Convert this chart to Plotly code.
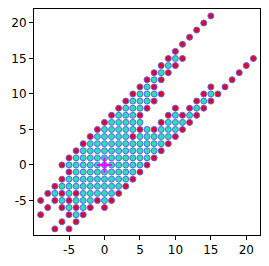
import plotly.graph_objects as go

# Red (boundary) lattice points, listed row by row (y value, x values)
red_rows_y = [21, 20, 19, 18, 17, 16, 15, 14, 13, 12, 11, 10, 9, 8, 7, 6, 5, 4, 3, 2, 1, 0,
              -1, -2, -3, -4, -5, -6, -7, -8, -9]
red_rows_x = [[15], [14], [13], [12], [11], [10], [9, 11, 21], [8, 10, 20], [7, 9, 19],
              [6, 8, 18], [5, 7, 15, 17], [4, 8, 14, 16], [3, 7, 13, 15], [2, 6, 10, 12, 14],
              [1, 5, 9, 11, 13], [0, 8, 12], [-1, 5, 7, 11], [-2, 4, 10], [-3, 9], [-4, 8],
              [-5, 7], [-6, 6], [-5, 5], [-6, 4], [-7, 3], [-8, -6, -4, 2],
              [-9, -7, -5, -1, 1], [-8, -6, -4, -2, 0], [-9, -5, -3], [-6, -4], [-7, -5]]

# Cyan (interior) lattice points, row by row
cyan_rows_y = [15, 14, 13, 12, 11, 10, 9, 8, 7, 6, 5, 4, 3, 2, 1, 0, -1, -2, -3, -4, -5, -6, -7]
cyan_rows_x = [[10], [9], [8], [7], [6], [5, 6, 7, 15], [4, 5, 6, 14], [3, 4, 5, 13],
               [2, 3, 4, 10, 12], [1, 2, 3, 4, 5, 9, 10, 11], [0, 1, 2, 3, 4, 6, 8, 9, 10],
               [-1, 0, 1, 2, 3, 5, 6, 7, 8, 9], list(range(-2, 9)), list(range(-3, 8)),
               list(range(-4, 7)), list(range(-5, 6)), list(range(-4, 5)), list(range(-5, 4)),
               list(range(-6, 3)), [-7, -5, -3, -2, -1, 0, 1], [-6, -4, -3, -2, 0], [-5, -3], [-4]]

origin_x = [0]
origin_y = [0]

x_ticks = [-5, 0, 5, 10, 15, 20]
y_ticks = [-5, 0, 5, 10, 15, 20]

red_x, red_y = [], []
for yv, xs in zip(red_rows_y, red_rows_x):
    red_x += xs
    red_y += [yv] * len(xs)
cyan_x, cyan_y = [], []
for yv, xs in zip(cyan_rows_y, cyan_rows_x):
    cyan_x += xs
    cyan_y += [yv] * len(xs)

edge = "#6161ee"
fig = go.Figure()
fig.add_trace(go.Scatter(x=cyan_x, y=cyan_y, mode="markers",
                         marker=dict(size=6, color="#25e2b0", line=dict(color=edge, width=1)),
                         showlegend=False, hoverinfo="skip"))
fig.add_trace(go.Scatter(x=red_x, y=red_y, mode="markers",
                         marker=dict(size=6, color="#dc0a24", line=dict(color=edge, width=1)),
                         showlegend=False, hoverinfo="skip"))
fig.add_trace(go.Scatter(x=origin_x, y=origin_y, mode="markers",
                         marker=dict(symbol="cross-thin", size=11, color="#ff00ff",
                                     line=dict(color="#ff00ff", width=2)),
                         showlegend=False, hoverinfo="skip"))

axis_common = dict(showgrid=False, zeroline=False, showline=True, linecolor="black",
                   linewidth=1, mirror=True, ticks="outside", ticklen=4, tickwidth=1,
                   tickcolor="black", automargin=False,
                   tickfont=dict(family="DejaVu Sans", size=12, color="black"))
fig.update_xaxes(range=[-9.94, 21.93], tickvals=x_ticks, ticktext=[str(v) for v in x_ticks],
                 **axis_common)
fig.update_yaxes(range=[-9.86, 21.97], tickvals=y_ticks, ticktext=[str(v) for v in y_ticks],
                 **axis_common)
fig.update_layout(width=269, height=266, margin=dict(l=34, r=9, t=9, b=31),
                  plot_bgcolor="white", paper_bgcolor="white")
fig.write_html("out.html", config={"displayModeBar": False, "staticPlot": True},
               post_script="document.body.style.margin='0';document.body.style.overflow='hidden';")
